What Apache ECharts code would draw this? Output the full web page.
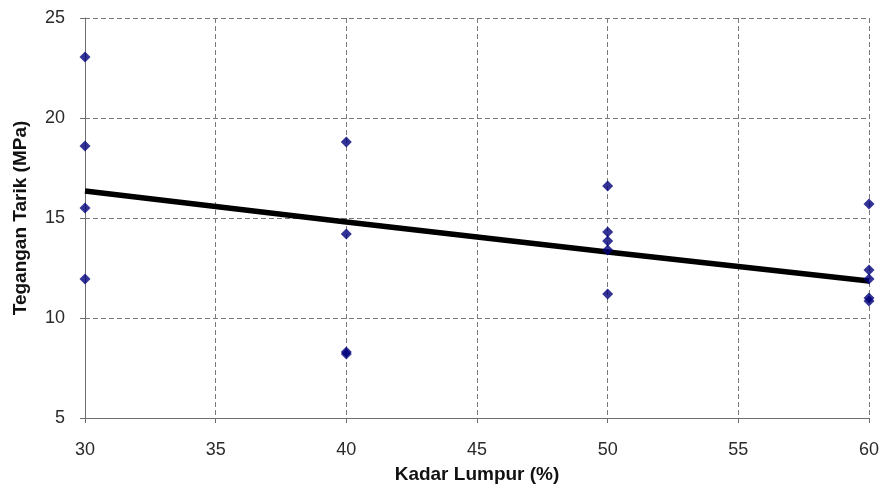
<!DOCTYPE html>
<html>
<head>
<meta charset="utf-8">
<script src="https://cdn.jsdelivr.net/npm/echarts@6/dist/echarts.min.js"></script>
<style>
    html, body {margin: 0; padding: 0; background: #fff;}
    #chart {width: 885px; height: 490px;}
</style>
</head>
<body>
<div id="chart"></div>
<script>
// kadar lumpur (%) for each test piece and its tensile strength (MPa)
var kadarLumpur = [30, 30, 30, 30, 40, 40, 40, 40, 50, 50, 50, 50, 50, 60, 60, 60, 60, 60];
var tegangan = [23.05, 18.6, 15.5, 11.95, 18.8, 14.2, 8.3, 8.2, 16.6, 14.3, 13.85, 13.4, 11.2, 15.7, 12.4, 11.95, 11.0, 10.85];

// trend line
var trendX = [30, 40, 45, 50, 60];
var trendY = [16.35, 14.8, 14.05, 13.3, 11.85];

var xTicks = [30, 35, 40, 45, 50, 55, 60];
var yTicks = [5, 10, 15, 20, 25];

var pairs = function (xs, ys) {
    var out = [];
    for (var i = 0; i < xs.length; i++) {
        out.push([xs[i], ys[i]]);
    }
    return out;
};

var chart = echarts.init(document.getElementById('chart'));
var fontName = 'Liberation Sans, Arial, sans-serif';
var gridLine = {show: true, lineStyle: {color: '#7a7a7a', type: [5, 3], width: 1}};

var option = {
    animation: false,
    backgroundColor: '#fff',
    grid: {left: 85, right: 16, top: 18, bottom: 72},
    xAxis: {
        type: 'value',
        min: xTicks[0],
        max: xTicks[xTicks.length - 1],
        interval: 5,
        name: 'Kadar Lumpur (%)',
        nameLocation: 'middle',
        nameGap: 47,
        nameTextStyle: {fontFamily: fontName, fontWeight: 'bold', fontSize: 19, color: '#111'},
        axisLine: {lineStyle: {color: '#6e6e6e', width: 1}},
        axisTick: {show: true, length: 5, lineStyle: {color: '#6e6e6e'}},
        axisLabel: {fontFamily: fontName, fontSize: 18, color: '#2a2a2a', margin: 23},
        splitLine: gridLine
    },
    yAxis: {
        type: 'value',
        min: yTicks[0],
        max: yTicks[yTicks.length - 1],
        interval: 5,
        name: 'Tegangan Tarik (MPa)',
        nameLocation: 'middle',
        nameGap: 55,
        nameRotate: 90,
        nameTextStyle: {fontFamily: fontName, fontWeight: 'bold', fontSize: 19, color: '#111'},
        axisLine: {show: true, lineStyle: {color: '#6e6e6e', width: 1}},
        axisTick: {show: true, length: 5, lineStyle: {color: '#6e6e6e'}},
        axisLabel: {fontFamily: fontName, fontSize: 18, color: '#2a2a2a', margin: 20},
        splitLine: gridLine
    },
    series: [{
        name: 'trend',
        type: 'line',
        data: pairs(trendX, trendY),
        smooth: true,
        symbol: 'none',
        lineStyle: {color: '#000', width: 5.5},
        z: 2
    }, {
        name: 'data',
        type: 'scatter',
        data: pairs(kadarLumpur, tegangan),
        symbol: 'diamond',
        symbolSize: 11,
        itemStyle: {color: '#00007a'},
        z: 3
    }]
};
chart.setOption(option);
</script>
</body>
</html>
